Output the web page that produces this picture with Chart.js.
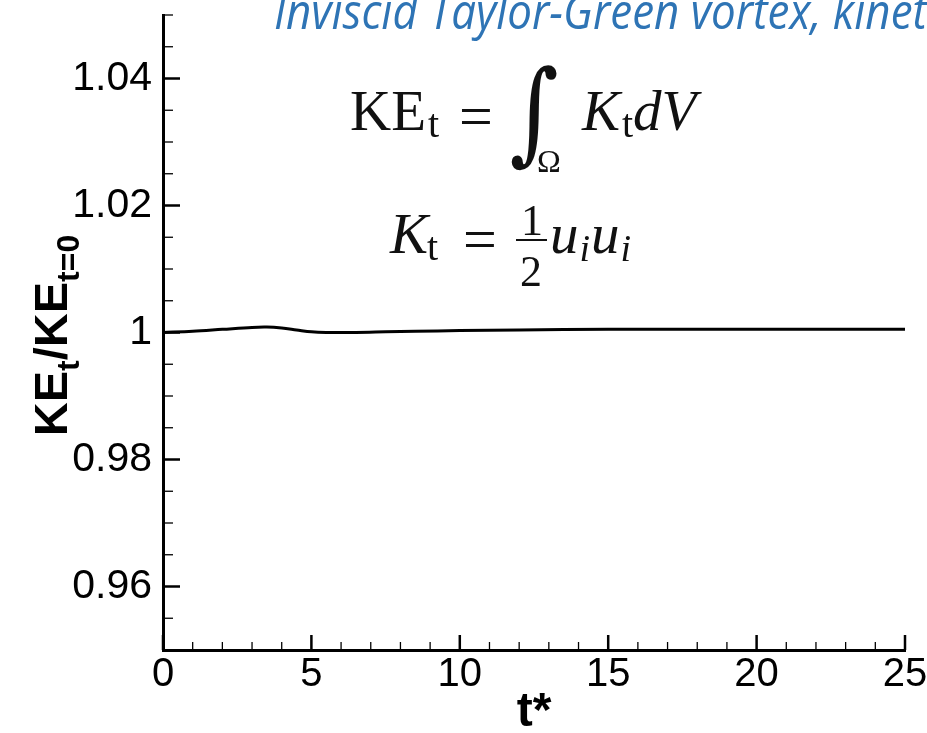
<!DOCTYPE html>
<html>
<head>
<meta charset="utf-8">
<script src="https://cdn.jsdelivr.net/npm/chart.js@4.4.1/dist/chart.umd.min.js"></script>
<style>
  html, body { margin: 0; padding: 0; background: #fff; }
  canvas { display: block; }
</style>
</head>
<body>
<canvas id="keChart" width="927" height="733"></canvas>
<script>
// kinetic energy ratio vs. non-dimensional time
const tStar = [0, 1, 2, 3, 3.5, 4, 4.5, 5, 5.5, 6.5, 7.5, 8.5, 10, 12, 15, 18, 20, 22, 25];
const keRatio = [1.0000, 1.0002, 1.0005, 1.0008, 1.00085, 1.0007, 1.0004, 1.0001, 1.0000, 1.0000,
                 1.0001, 1.0002, 1.0003, 1.0004, 1.0005, 1.0005, 1.0005, 1.0005, 1.0005];

const xTicks = [0, 5, 10, 15, 20, 25];
const yTicks = [0.96, 0.98, 1.00, 1.02, 1.04];
const yTickLabels = ["0.96", "0.98", "1", "1.02", "1.04"];
const xMinorStep = 1;
const yMinorStep = 0.005;

const titleText = "Inviscid Taylor-Green vortex, kinetic energy";

const SANS = "'Liberation Sans', Arial, Helvetica, sans-serif";
const SERIF = "'Liberation Serif', 'Times New Roman', serif";

// tecplot style ticks pointing into the plot
const innerTicks = {
    id: "innerTicks",
    afterDatasetsDraw(chart) {
        const { ctx, scales: { x, y } } = chart;
        ctx.save();
        ctx.strokeStyle = "#000";
        const nx = Math.round((x.max - x.min) / xMinorStep);
        for (let i = 0; i <= nx; i++) {
            const v = x.min + i * xMinorStep;
            const major = xTicks.some(t => Math.abs(t - v) < 1e-9);
            const px = x.getPixelForValue(v);
            ctx.lineWidth = major ? 2.5 : 1.3;
            ctx.beginPath();
            ctx.moveTo(px, y.bottom);
            ctx.lineTo(px, y.bottom - (major ? 15 : 8));
            ctx.stroke();
        }
        const ny = Math.round((y.max - y.min) / yMinorStep);
        for (let i = 0; i <= ny; i++) {
            const v = y.min + i * yMinorStep;
            const major = yTicks.some(t => Math.abs(t - v) < 1e-9);
            const py = y.getPixelForValue(v);
            ctx.lineWidth = major ? 2.5 : 1.3;
            ctx.beginPath();
            ctx.moveTo(x.left, py);
            ctx.lineTo(x.left + (major ? 17 : 10), py);
            ctx.stroke();
        }
        ctx.restore();
    }
};

function put(ctx, str, x, y, font) {
    ctx.font = font;
    ctx.fillText(str, x, y);
    return x + ctx.measureText(str).width;
}

// stretch a glyph into a box (used for the integral sign)
function fitGlyph(ctx, ch, font, bx, by, bw, bh) {
    ctx.font = font;
    const m = ctx.measureText(ch);
    const w = m.actualBoundingBoxLeft + m.actualBoundingBoxRight;
    const h = m.actualBoundingBoxAscent + m.actualBoundingBoxDescent;
    ctx.save();
    ctx.translate(bx, by);
    ctx.scale(bw / w, bh / h);
    ctx.fillText(ch, m.actualBoundingBoxLeft, m.actualBoundingBoxAscent);
    ctx.restore();
}

const annotations = {
    id: "annotations",
    afterDraw(chart) {
        const { ctx, chartArea } = chart;
        ctx.save();
        ctx.textAlign = "left";
        ctx.textBaseline = "alphabetic";

        // heading, runs off the right edge
        ctx.fillStyle = "#2E74B5";
        ctx.font = "italic 50px 'Open Sans', sans-serif";
        const vis = ctx.measureText("Inviscid Taylor-Green vortex, kinet").width;
        ctx.save();
        ctx.translate(274, 29);
        ctx.scale(653 / vis, 1);
        ctx.fillText(titleText, 0, 0);
        ctx.restore();

        // y axis title with subscripts
        ctx.fillStyle = "#000";
        const big = "bold 47px " + SANS, small = "bold 32px " + SANS;
        const parts = [["KE", big, 0], ["t", small, 12], ["/KE", big, 0], ["t=0", small, 12]];
        let total = 0;
        parts.forEach(p => { ctx.font = p[1]; total += ctx.measureText(p[0]).width; });
        ctx.save();
        ctx.translate(67, (chartArea.top + chartArea.bottom) / 2 + 3 + total / 2);
        ctx.rotate(-Math.PI / 2);
        let cx = 0;
        parts.forEach(p => { cx = put(ctx, p[0], cx, p[2], p[1]); });
        ctx.restore();

        // formulas
        ctx.fillStyle = "#111";
        const rm = "57px " + SERIF, it = "italic 57px " + SERIF;
        const sb = "40px " + SERIF, sbi = "italic 38px " + SERIF;
        const keEnd = put(ctx, "KE", 350, 130, rm);
        put(ctx, "t", keEnd + 2, 137, sb);
        ctx.textAlign = "center";
        put(ctx, "=", 476, 136, "60px " + SERIF);
        ctx.textAlign = "left";
        fitGlyph(ctx, "\u222B", "italic 80px 'DejaVu Serif', serif", 511, 65, 46, 106);
        put(ctx, "\u03A9", 537, 172, "32px " + SERIF);
        put(ctx, "K", 582, 130, it);
        put(ctx, "t", 622, 137, sb);
        put(ctx, "dV", 633, 130, it);

        const kEnd = put(ctx, "K", 390, 253, it);
        put(ctx, "t", kEnd - 1, 260, sb);
        ctx.textAlign = "center";
        put(ctx, "=", 480, 259, "60px " + SERIF);
        put(ctx, "1", 532, 235, "44px " + SERIF);
        put(ctx, "2", 531, 286, "44px " + SERIF);
        ctx.fillRect(516, 239, 31, 2);
        ctx.textAlign = "left";
        let ux = put(ctx, "u", 550, 253, it);
        ux = put(ctx, "i", ux + 1, 261, sbi);
        ux = put(ctx, "u", ux + 1, 253, it);
        put(ctx, "i", ux + 1, 261, sbi);
        ctx.restore();
    }
};

const ctx = document.getElementById("keChart").getContext("2d");
const chart = new Chart(ctx, {
    type: "line",
    data: {
        datasets: [{
            label: "KE ratio",
            data: tStar.map((t, i) => ({ x: t, y: keRatio[i] })),
            borderColor: "#000",
            borderWidth: 3,
            pointRadius: 0,
            tension: 0.35,
            fill: false
        }]
    },
    options: {
        responsive: false,
        animation: false,
        layout: { padding: { top: 15, right: 22, left: 0, bottom: 0 } },
        plugins: {
            legend: { display: false },
            tooltip: { enabled: false }
        },
        scales: {
            x: {
                type: "linear",
                min: 0,
                max: 25,
                grid: { display: false, drawTicks: false },
                border: { display: true, color: "#000", width: 3 },
                afterBuildTicks: s => { s.ticks = xTicks.map(v => ({ value: v })); },
                afterFit: s => { s.height = 83; s.paddingLeft = 0; s.paddingRight = 0; },
                ticks: {
                    padding: 1,
                    color: "#000",
                    maxRotation: 0,
                    autoSkip: false,
                    font: { family: SANS, size: 40 }
                },
                title: {
                    display: true,
                    text: "t*",
                    color: "#000",
                    font: { family: SANS, size: 48, weight: "bold", lineHeight: 1 },
                    padding: { top: 0, bottom: -4 }
                }
            },
            y: {
                min: 0.95,
                max: 1.05,
                grid: { display: false, drawTicks: false },
                border: { display: true, color: "#000", width: 3 },
                afterBuildTicks: s => { s.ticks = yTicks.map(v => ({ value: v })); },
                afterFit: s => { s.width = 163; s.paddingTop = 0; s.paddingBottom = 0; },
                ticks: {
                    padding: 11,
                    color: "#000",
                    font: { family: SANS, size: 41 },
                    callback: (v, i) => yTickLabels[i]
                }
            }
        }
    },
    plugins: [innerTicks, annotations]
});
</script>
</body>
</html>
